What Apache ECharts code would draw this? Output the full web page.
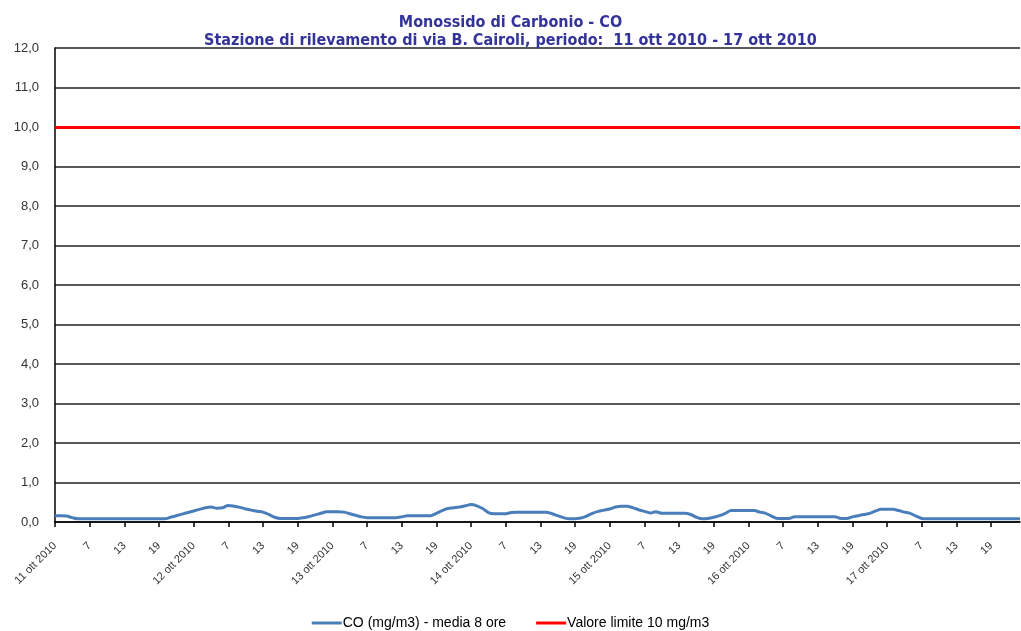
<!DOCTYPE html>
<html>
<head>
<meta charset="utf-8">
<script src="https://cdn.jsdelivr.net/npm/echarts@6/dist/echarts.min.js"></script>
<style>
  html, body { margin: 0; padding: 0; background: #fff; }
  #main { width: 1021px; height: 631px; }
</style>
</head>
<body>
<div id="main"></div>
<script>
// giorni e ore del periodo
var days = ['11 ott 2010', '12 ott 2010', '13 ott 2010', '14 ott 2010', '15 ott 2010', '16 ott 2010', '17 ott 2010'];
var hours = [1, 2, 3, 4, 5, 6, 7, 8, 9, 10, 11, 12, 13, 14, 15, 16, 17, 18, 19, 20, 21, 22, 23, 24];

// CO media mobile 8 ore (mg/m3), un valore per ora
var coValues = [
    0.16, 0.16, 0.15, 0.11, 0.08, 0.08, 0.08, 0.08, 0.08, 0.08, 0.08, 0.08,
    0.08, 0.08, 0.08, 0.08, 0.08, 0.08, 0.08, 0.08, 0.12, 0.16, 0.20, 0.24,
    0.28, 0.32, 0.36, 0.38, 0.35, 0.36, 0.42, 0.40, 0.37, 0.33, 0.30, 0.27,
    0.25, 0.19, 0.12, 0.09, 0.09, 0.09, 0.09, 0.11, 0.14, 0.18, 0.22, 0.26,
    0.26, 0.26, 0.25, 0.21, 0.17, 0.13, 0.11, 0.11, 0.11, 0.11, 0.11, 0.11,
    0.13, 0.16, 0.16, 0.16, 0.16, 0.16, 0.22, 0.29, 0.34, 0.36, 0.38, 0.41,
    0.44, 0.41, 0.34, 0.24, 0.21, 0.21, 0.21, 0.24, 0.25, 0.25, 0.25, 0.25,
    0.25, 0.25, 0.21, 0.16, 0.11, 0.08, 0.08, 0.10, 0.15, 0.22, 0.27, 0.30,
    0.33, 0.38, 0.40, 0.40, 0.36, 0.31, 0.27, 0.23, 0.26, 0.22, 0.22, 0.22,
    0.22, 0.22, 0.19, 0.12, 0.08, 0.09, 0.12, 0.16, 0.22, 0.29, 0.29, 0.29,
    0.29, 0.29, 0.25, 0.22, 0.15, 0.09, 0.09, 0.09, 0.13, 0.13, 0.13, 0.13,
    0.13, 0.13, 0.13, 0.13, 0.09, 0.09, 0.13, 0.16, 0.19, 0.22, 0.28, 0.32,
    0.32, 0.32, 0.29, 0.25, 0.22, 0.15, 0.09, 0.08, 0.08, 0.08, 0.08, 0.08,
    0.08, 0.08, 0.08, 0.08, 0.08, 0.08, 0.08, 0.08, 0.08, 0.08, 0.08, 0.08
];

var limitValue = 10;
var yTicks = [0, 1, 2, 3, 4, 5, 6, 7, 8, 9, 10, 11, 12];

var categories = [];
days.forEach(function (d) {
    hours.forEach(function (h) {
        categories.push(d + '|' + h);
    });
});

var myChart = echarts.init(document.getElementById('main'));

var option = {
    animation: false,
    title: {
        text: 'Monossido di Carbonio - CO\nStazione di rilevamento di via B. Cairoli, periodo:  11 ott 2010 - 17 ott 2010',
        left: 'center',
        top: 9,
        textStyle: {
            color: '#333399',
            fontFamily: 'DejaVu Sans Condensed',
            fontWeight: 'bold',
            fontSize: 16,
            lineHeight: 18
        }
    },
    legend: {
        top: 611,
        left: 'center',
        itemWidth: 30,
        itemHeight: 3,
        itemGap: 30,
        textStyle: { color: '#000', fontFamily: 'Liberation Sans', fontSize: 14, padding: [0, 0, 0, -4] },
        data: [
            { name: 'CO (mg/m3) - media 8 ore', icon: 'rect' },
            { name: 'Valore limite 10 mg/m3', icon: 'rect' }
        ]
    },
    grid: {
        left: 55,
        right: 1,
        top: 48,
        bottom: 109
    },
    xAxis: {
        type: 'category',
        boundaryGap: false,
        data: categories,
        axisLine: { lineStyle: { color: '#000', width: 1.5 } },
        axisTick: { interval: 5, length: 5, lineStyle: { color: '#000', width: 1.5 } },
        axisLabel: {
            interval: 5,
            rotate: 45,
            margin: 22,
            color: '#333',
            fontFamily: 'Liberation Sans',
            fontSize: 11,
            formatter: function (v) {
                var p = v.split('|');
                return p[1] === '1' ? p[0] : p[1];
            }
        },
        splitLine: { show: false }
    },
    yAxis: {
        type: 'value',
        min: yTicks[0],
        max: yTicks[yTicks.length - 1],
        interval: 1,
        axisLine: { show: true, lineStyle: { color: '#000', width: 1.5 } },
        axisTick: { show: false },
        axisLabel: {
            margin: 16,
            color: '#333',
            fontFamily: 'Liberation Sans',
            fontSize: 13,
            formatter: function (v) { return v.toFixed(1).replace('.', ','); }
        },
        splitLine: { lineStyle: { color: '#222', width: 1.5 } }
    },
    series: [
        {
            name: 'CO (mg/m3) - media 8 ore',
            type: 'line',
            data: coValues,
            showSymbol: false,
            smooth: 0.3,
            color: '#4a7ebb',
            lineStyle: { color: '#4a7ebb', width: 3 },
            z: 3
        },
        {
            name: 'Valore limite 10 mg/m3',
            type: 'line',
            data: [],
            showSymbol: false,
            color: '#ff0000',
            lineStyle: { color: '#ff0000', width: 3 },
            markLine: {
                silent: true,
                symbol: 'none',
                label: { show: false },
                lineStyle: { color: '#ff0000', width: 3, type: 'solid' },
                data: [{ yAxis: limitValue }]
            }
        }
    ]
};

myChart.setOption(option);
</script>
</body>
</html>
